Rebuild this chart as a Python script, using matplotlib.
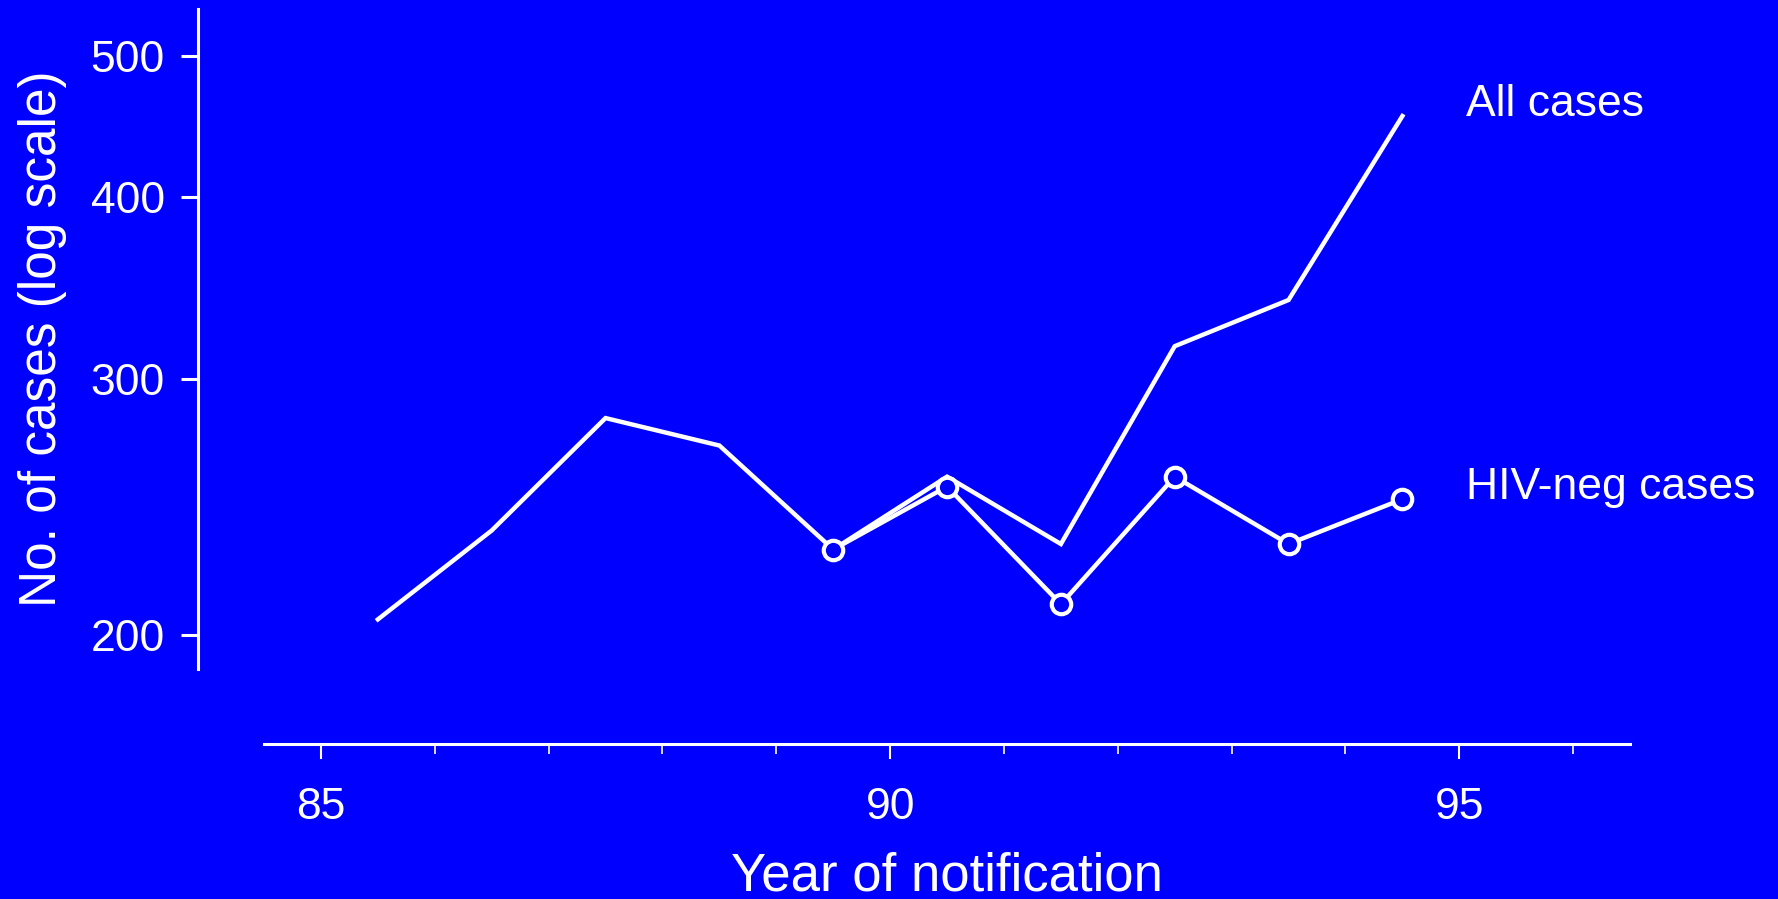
import matplotlib

matplotlib.use("Agg")

import matplotlib.pyplot as plt

# Tuberculosis notifications by year, log scale
years = [85.5, 86.5, 87.5, 88.5, 89.5, 90.5, 91.5, 92.5, 93.5, 94.5]
all_cases = [205, 236, 282, 270, 229, 257, 231, 316, 340, 455]

hiv_years = [89.5, 90.5, 91.5, 92.5, 93.5, 94.5]
hiv_neg_cases = [229, 253, 210, 257, 231, 248]

y_ticks = [200, 300, 400, 500]
x_major = [85, 90, 95]
x_minor = list(range(85, 97))

BG = "#0000ff"
FG = "white"
FONT = "Liberation Sans"

fig = plt.figure(figsize=(17.78, 8.99), dpi=100, facecolor=BG)
ax = fig.add_axes([0.1485, 0.2558, 0.7683, 0.7341], facecolor=BG)

ax.plot(years, all_cases, color=FG, lw=3.2, solid_joinstyle="miter")
ax.plot(hiv_years, hiv_neg_cases, color=FG, lw=3.2, marker="o", ms=14,
        mfc=BG, mec=FG, mew=3.0)

ax.text(95.06, all_cases[-1], "All cases", color=FG, fontsize=32,
        family=FONT, va="baseline", ha="left")
ax.text(95.06, hiv_neg_cases[-1], "HIV-neg cases", color=FG, fontsize=32,
        family=FONT, va="baseline", ha="left")

ax.set_yscale("log")
ax.set_xlim(84.5, 96.5)
ax.set_ylim(189.5, 539)

ax.yaxis.set_minor_locator(matplotlib.ticker.NullLocator())
ax.set_yticks(y_ticks)
ax.set_yticklabels([str(v) for v in y_ticks])

ax.set_xticks(x_major)
ax.set_xticks(x_minor, minor=True)
ax.set_xticklabels([str(v) for v in x_major])

for side in ("top", "right"):
    ax.spines[side].set_visible(False)
ax.spines["left"].set_position(("outward", 47.5))
ax.spines["bottom"].set_position(("outward", 54))
for side in ("left", "bottom"):
    ax.spines[side].set_color(FG)
    ax.spines[side].set_linewidth(2.2)

ax.tick_params(axis="y", which="major", colors=FG, length=12, width=2.2,
               pad=12, labelsize=32)
ax.tick_params(axis="x", which="major", colors=FG, length=11, width=1.5,
               pad=20, labelsize=32)
ax.tick_params(axis="x", which="minor", colors=FG, length=7, width=1.2)
for lab in ax.get_xticklabels() + ax.get_yticklabels():
    lab.set_family(FONT)

ax.set_ylabel("No. of cases (log scale)", color=FG, fontsize=37, family=FONT,
              labelpad=17)
ax.set_xlabel("Year of notification", color=FG, fontsize=38, family=FONT,
              labelpad=17)

fig.savefig("out.png", dpi=100, facecolor=BG)
